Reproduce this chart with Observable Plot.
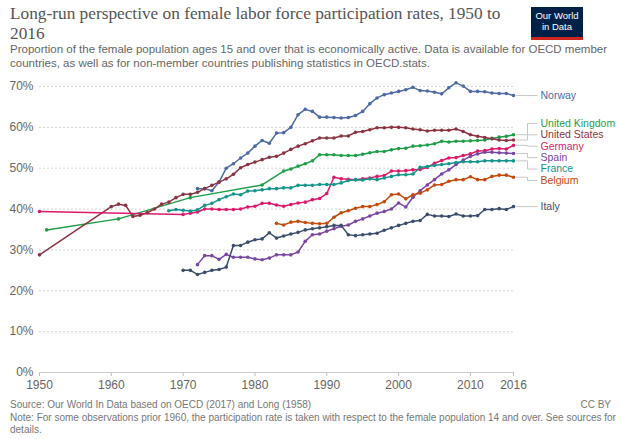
<!DOCTYPE html>
<html>
<head>
<meta charset="utf-8">
<script src="https://cdn.jsdelivr.net/npm/d3@7"></script>
<script src="https://cdn.jsdelivr.net/npm/@observablehq/plot@0.6"></script>
<style>
  html, body { margin: 0; padding: 0; background: #fff; }
  #wrap { position: relative; width: 621px; height: 439px; overflow: hidden; font-family: "Liberation Sans", Arial, sans-serif; }
  #title { position: absolute; left: 10px; top: 4px; white-space: nowrap; font-family: "Liberation Serif", "DejaVu Serif", serif; font-size: 17.3px; line-height: 19.5px; color: #555; }
  #subtitle { position: absolute; left: 10px; top: 43px; white-space: nowrap; font-size: 11.5px; line-height: 13.8px; color: #666; }
  #logo { position: absolute; left: 531px; top: 7px; width: 52px; height: 27px; background: #002147; border-bottom: 3px solid #ce261e; color: #fff; font-size: 9.5px; line-height: 11px; text-align: center; padding-top: 3px; box-sizing: content-box; }
  #chart { position: absolute; left: 0; top: 72px; }
  #footer { position: absolute; left: 10px; top: 399px; width: 601px; font-size: 10px; line-height: 12.5px; color: #777; white-space: nowrap; }
  #ccby { position: absolute; right: 10px; top: 399px; font-size: 10px; line-height: 12.5px; color: #777; }
  #chart svg [aria-label="x-axis tick"] { stroke: #bbb; }
</style>
</head>
<body>
<div id="wrap">
  <div id="title">Long-run perspective on female labor force participation rates, 1950 to<br>2016</div>
  <div id="subtitle">Proportion of the female population ages 15 and over that is economically active. Data is available for OECD member<br>countries, as well as for non-member countries publishing statistics in OECD.stats.</div>
  <div id="logo">Our World<br>in Data</div>
  <div id="chart"></div>
  <div id="footer">Source: Our World In Data based on OECD (2017) and Long (1958)<br>Note: For some observations prior 1960, the participation rate is taken with respect to the female population 14 and over. See sources for<br>details.</div>
  <div id="ccby">CC BY</div>
</div>
<script>
// ---- Data (female labour force participation, %) ----
const countries = ["Norway", "United Kingdom", "United States", "Germany", "Spain", "France", "Belgium", "Italy"];
const countryColors = ["#4e6aa4", "#1f9e48", "#8c3341", "#dc1a6c", "#7a46a3", "#13948c", "#c44b0b", "#3b4d6b"];

const norwayYears = d3.range(1972, 2017);
const norwayRates = [45.0, 45.0, 44.5, 46.6, 50.0, 51.1, 52.5, 53.7, 55.4, 56.8, 56.1, 58.6, 58.7, 60.0, 63.1, 64.4, 63.9, 62.5, 62.5, 62.4, 62.3, 62.4, 62.9, 63.9, 65.8, 67.2, 68.0, 68.4, 68.8, 69.2, 69.8, 69.0, 68.9, 68.6, 68.2, 69.7, 70.9, 70.1, 68.8, 68.8, 68.7, 68.4, 68.3, 68.3, 67.8];

const ukYears = [1951, 1961, 1971, 1981, ...d3.range(1984, 2017)];
const ukRates = [34.9, 37.6, 42.8, 45.9, 49.3, 49.8, 50.5, 51.1, 51.8, 53.3, 53.3, 53.3, 53.1, 53.1, 53.1, 53.4, 53.8, 54.1, 54.1, 54.5, 54.8, 54.9, 55.4, 55.5, 55.7, 56.0, 56.6, 56.4, 56.6, 56.6, 56.7, 56.8, 56.9, 57.3, 57.6, 57.8, 58.2];

const usYears = [1950, ...d3.range(1960, 2017)];
const usRates = [28.8, 40.6, 41.2, 40.9, 38.2, 38.5, 39.1, 40.0, 41.2, 41.7, 42.8, 43.6, 43.6, 44.1, 45.0, 45.8, 46.6, 47.4, 48.5, 50.1, 50.9, 51.5, 52.1, 52.7, 52.9, 53.7, 54.6, 55.4, 56.0, 56.7, 57.4, 57.4, 57.4, 57.9, 57.9, 58.8, 59.0, 59.4, 59.9, 59.9, 60.0, 60.0, 59.9, 59.6, 59.4, 59.1, 59.3, 59.3, 59.3, 59.6, 59.0, 58.2, 57.8, 57.5, 57.2, 56.9, 56.8, 56.9];

const germanyYears = [1950, ...d3.range(1970, 2017)];
const germanyRates = [39.4, 38.7, 39.0, 39.3, 40.0, 40.0, 39.9, 39.9, 39.9, 40.0, 40.5, 40.7, 41.4, 41.4, 41.0, 40.7, 41.1, 41.5, 41.7, 42.3, 42.6, 43.8, 47.8, 47.4, 47.3, 47.2, 47.4, 47.6, 48.0, 48.2, 49.3, 49.3, 49.4, 49.6, 49.7, 50.2, 51.2, 51.9, 52.5, 52.6, 53.1, 53.5, 54.2, 54.3, 54.7, 54.8, 54.7, 55.6];

const spainYears = d3.range(1972, 2017);
const spainRates = [26.4, 28.6, 28.6, 27.7, 28.9, 28.2, 28.2, 28.2, 27.8, 27.6, 28.0, 28.8, 28.8, 28.8, 29.5, 32.1, 33.7, 33.9, 34.6, 35.2, 35.8, 36.1, 37.0, 37.6, 38.3, 39.0, 39.4, 40.0, 41.5, 40.5, 42.9, 44.5, 45.9, 47.2, 48.6, 49.6, 50.9, 52.0, 52.9, 53.5, 53.9, 53.9, 53.8, 53.7, 53.6];

const franceYears = d3.range(1968, 2017);
const franceRates = [39.6, 39.9, 39.7, 39.5, 39.8, 40.9, 41.4, 42.3, 43.0, 43.7, 43.5, 44.4, 44.5, 44.7, 45.0, 45.0, 45.2, 45.2, 45.8, 45.8, 45.8, 46.0, 46.0, 46.0, 46.4, 47.0, 47.2, 47.1, 47.4, 47.2, 47.6, 48.0, 48.4, 48.4, 48.6, 50.2, 50.4, 50.7, 50.9, 51.1, 51.4, 51.6, 51.6, 51.6, 51.8, 51.8, 51.8, 51.8, 51.8];

const belgiumYears = d3.range(1983, 2017);
const belgiumRates = [36.5, 36.1, 36.8, 37.0, 36.7, 36.5, 36.4, 36.5, 38.0, 39.1, 39.6, 40.2, 40.6, 40.6, 41.1, 41.8, 43.5, 43.7, 42.5, 43.5, 43.9, 44.7, 45.9, 46.0, 46.8, 47.2, 47.2, 47.9, 47.2, 47.2, 48.0, 48.3, 48.3, 47.8];

const italyYears = d3.range(1970, 2017);
const italyRates = [25.0, 25.0, 24.0, 24.5, 25.0, 25.2, 25.8, 31.1, 31.1, 31.9, 32.5, 32.7, 34.2, 32.9, 33.4, 33.9, 34.3, 34.9, 35.2, 35.4, 35.7, 36.0, 36.0, 33.7, 33.5, 33.7, 33.9, 34.1, 34.8, 35.4, 36.0, 36.5, 37.0, 37.2, 38.7, 38.3, 38.3, 38.2, 38.8, 38.3, 38.3, 38.4, 39.9, 39.9, 40.1, 39.9, 40.6];

const xTicks = [1950, 1960, 1970, 1980, 1990, 2000, 2010, 2016];
const yTicks = [0, 10, 20, 30, 40, 50, 60, 70];

// ---- Build table ----
const series = [
  [norwayYears, norwayRates], [ukYears, ukRates], [usYears, usRates], [germanyYears, germanyRates],
  [spainYears, spainRates], [franceYears, franceRates], [belgiumYears, belgiumRates], [italyYears, italyRates]
];
const rows = countries.flatMap((c, i) => series[i][0].map((yr, j) => ({country: c, year: yr, rate: series[i][1][j]})));

// ---- Layout constants ----
const W = 621, H = 324, mT = 14, mB = 24, mL = 39, mR = 108;
const yMax = 70;
const pxPerUnit = (H - mT - mB) / yMax;
const labelGap = 11.4 / pxPerUnit;   // label spacing in data units

// ---- Label de-overlap (group & centre) ----
const ends = countries.map((c, i) => ({country: c, value: series[i][1][series[i][1].length - 1], lastYear: series[i][0][series[i][0].length - 1]}));
const sorted = [...ends].sort((a, b) => b.value - a.value);
let groups = sorted.map(d => ({items: [d]}));
function place(g) {
  const m = d3.mean(g.items, d => d.value);
  g.items.forEach((d, k) => d.labelY = m + ((g.items.length - 1) / 2 - k) * labelGap);
}
groups.forEach(place);
let merged = true;
while (merged) {
  merged = false;
  for (let i = 0; i < groups.length - 1; i++) {
    const a = groups[i], b = groups[i + 1];
    if (a.items[a.items.length - 1].labelY - b.items[0].labelY < labelGap - 1e-9) {
      a.items = a.items.concat(b.items);
      groups.splice(i + 1, 1);
      place(a);
      merged = true;
      break;
    }
  }
}
// leader connectors (offsets in years beyond last point)
const gStart = 0.45, gElbow = 1.95, gEnd = 3.3;
const leaders = ends.flatMap(d => [
  {country: d.country, x: d.lastYear + gStart, y: d.value},
  {country: d.country, x: d.lastYear + gElbow, y: d.value},
  {country: d.country, x: d.lastYear + gElbow, y: d.labelY},
  {country: d.country, x: d.lastYear + gEnd, y: d.labelY}
]);

const chart = Plot.plot({
  width: W, height: H,
  marginTop: mT, marginBottom: mB, marginLeft: mL, marginRight: mR,
  style: {fontFamily: "'Liberation Sans', Arial, sans-serif", fontSize: "12px", color: "#666", background: "white", overflow: "visible"},
  x: {domain: [1950, 2016], ticks: xTicks, tickFormat: d => String(d), tickSize: 4, tickPadding: 4, label: null},
  y: {domain: [0, yMax], ticks: yTicks, tickFormat: d => d + "%", tickSize: 0, tickPadding: 6, label: null},
  color: {domain: countries, range: countryColors},
  marks: [
    Plot.ruleY(yTicks.filter(d => d > 0), {stroke: "#d6d6d6", strokeDasharray: "2,2", strokeWidth: 1}),
    Plot.ruleY([0], {stroke: "#ccc", strokeWidth: 1}),
    Plot.line(leaders, {x: "x", y: "y", z: "country", stroke: "#c8c8c8", strokeWidth: 1, curve: "linear"}),
    Plot.line(rows, {x: "year", y: "rate", z: "country", stroke: "country", strokeWidth: 1.5, curve: "linear"}),
    Plot.dot(rows, {x: "year", y: "rate", fill: "country", r: 1.8, stroke: null}),
    Plot.text(ends, {x: "lastYear", y: "labelY", text: "country", fill: "country", dx: 27, textAnchor: "start", fontSize: 10.5})
  ]
});
document.getElementById("chart").appendChild(chart);
</script>
</body>
</html>
